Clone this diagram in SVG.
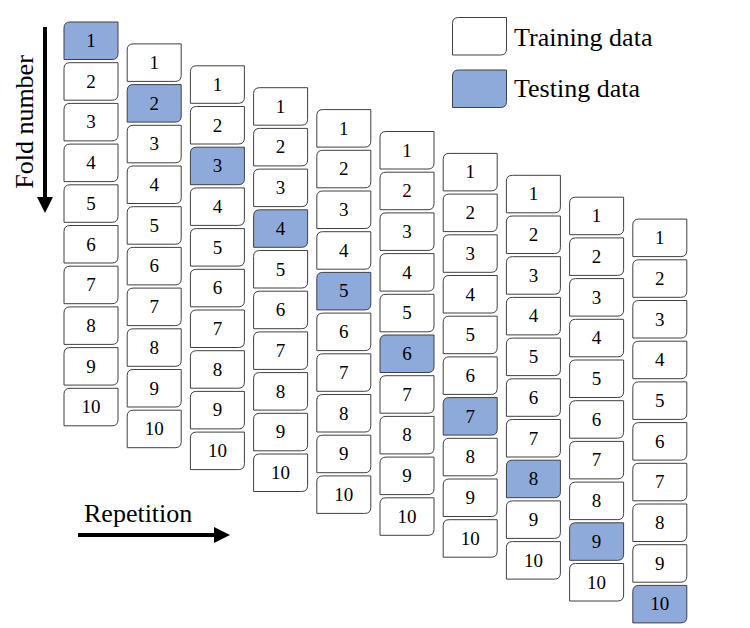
<svg xmlns="http://www.w3.org/2000/svg" xmlns:xlink="http://www.w3.org/1999/xlink" width="750" height="628" viewBox="0 0 750 628">
<style>
.tr{fill:#ffffff;stroke:#404040;stroke-width:1}
.te{fill:#8eaadb;stroke:#404040;stroke-width:1}
.n{font-family:"Liberation Serif","Times New Roman",serif;font-size:19px;fill:#000;text-anchor:middle}
.lbl{font-family:"Liberation Serif","Times New Roman",serif;font-size:26px;fill:#000}
</style>
<defs>
<path id="box" d="M6,0 H54 V31.5 Q54,37.5 48,37.5 H0 V6 Q0,0 6,0 Z"/>
<marker id="ah" viewBox="0 0 10 10" refX="0" refY="5" markerWidth="4" markerHeight="4" markerUnits="strokeWidth" orient="auto">
<path d="M0,0 L10,5 L0,10 Z" fill="#000"/>
</marker>
</defs>
<g id="legend">
<g id="legend-training"><use href="#box" x="452.5" y="17.5" class="tr"/><text class="lbl" x="514" y="46">Training data</text></g>
<g id="legend-testing"><use href="#box" x="452.5" y="70" class="te"/><text class="lbl" x="514" y="97">Testing data</text></g>
</g>
<g id="axes">
<g id="fold-axis"><line x1="45" y1="27" x2="45" y2="197" stroke="#000" stroke-width="4" marker-end="url(#ah)"/><text class="lbl" transform="translate(33,122) rotate(-90)" text-anchor="middle">Fold number</text></g>
<g id="rep-axis"><line x1="78" y1="535" x2="214" y2="535" stroke="#000" stroke-width="4" marker-end="url(#ah)"/><text class="lbl" x="84" y="522">Repetition</text></g>
</g>
<g id="connectors"></g>
<g id="rep1" transform="translate(64,22)">
<g id="r1f1"><use href="#box" class="te"/><text class="n" x="27" y="25">1</text></g>
<g id="r1f2" transform="translate(0,40.7)"><use href="#box" class="tr"/><text class="n" x="27" y="25">2</text></g>
<g id="r1f3" transform="translate(0,81.4)"><use href="#box" class="tr"/><text class="n" x="27" y="25">3</text></g>
<g id="r1f4" transform="translate(0,122.1)"><use href="#box" class="tr"/><text class="n" x="27" y="25">4</text></g>
<g id="r1f5" transform="translate(0,162.8)"><use href="#box" class="tr"/><text class="n" x="27" y="25">5</text></g>
<g id="r1f6" transform="translate(0,203.5)"><use href="#box" class="tr"/><text class="n" x="27" y="25">6</text></g>
<g id="r1f7" transform="translate(0,244.2)"><use href="#box" class="tr"/><text class="n" x="27" y="25">7</text></g>
<g id="r1f8" transform="translate(0,284.9)"><use href="#box" class="tr"/><text class="n" x="27" y="25">8</text></g>
<g id="r1f9" transform="translate(0,325.6)"><use href="#box" class="tr"/><text class="n" x="27" y="25">9</text></g>
<g id="r1f10" transform="translate(0,366.3)"><use href="#box" class="tr"/><text class="n" x="27" y="25">10</text></g>
</g>
<g id="rep2" transform="translate(127.2,43.9)">
<g id="r2f1"><use href="#box" class="tr"/><text class="n" x="27" y="25">1</text></g>
<g id="r2f2" transform="translate(0,40.7)"><use href="#box" class="te"/><text class="n" x="27" y="25">2</text></g>
<g id="r2f3" transform="translate(0,81.4)"><use href="#box" class="tr"/><text class="n" x="27" y="25">3</text></g>
<g id="r2f4" transform="translate(0,122.1)"><use href="#box" class="tr"/><text class="n" x="27" y="25">4</text></g>
<g id="r2f5" transform="translate(0,162.8)"><use href="#box" class="tr"/><text class="n" x="27" y="25">5</text></g>
<g id="r2f6" transform="translate(0,203.5)"><use href="#box" class="tr"/><text class="n" x="27" y="25">6</text></g>
<g id="r2f7" transform="translate(0,244.2)"><use href="#box" class="tr"/><text class="n" x="27" y="25">7</text></g>
<g id="r2f8" transform="translate(0,284.9)"><use href="#box" class="tr"/><text class="n" x="27" y="25">8</text></g>
<g id="r2f9" transform="translate(0,325.6)"><use href="#box" class="tr"/><text class="n" x="27" y="25">9</text></g>
<g id="r2f10" transform="translate(0,366.3)"><use href="#box" class="tr"/><text class="n" x="27" y="25">10</text></g>
</g>
<g id="rep3" transform="translate(190.4,65.8)">
<g id="r3f1"><use href="#box" class="tr"/><text class="n" x="27" y="25">1</text></g>
<g id="r3f2" transform="translate(0,40.7)"><use href="#box" class="tr"/><text class="n" x="27" y="25">2</text></g>
<g id="r3f3" transform="translate(0,81.4)"><use href="#box" class="te"/><text class="n" x="27" y="25">3</text></g>
<g id="r3f4" transform="translate(0,122.1)"><use href="#box" class="tr"/><text class="n" x="27" y="25">4</text></g>
<g id="r3f5" transform="translate(0,162.8)"><use href="#box" class="tr"/><text class="n" x="27" y="25">5</text></g>
<g id="r3f6" transform="translate(0,203.5)"><use href="#box" class="tr"/><text class="n" x="27" y="25">6</text></g>
<g id="r3f7" transform="translate(0,244.2)"><use href="#box" class="tr"/><text class="n" x="27" y="25">7</text></g>
<g id="r3f8" transform="translate(0,284.9)"><use href="#box" class="tr"/><text class="n" x="27" y="25">8</text></g>
<g id="r3f9" transform="translate(0,325.6)"><use href="#box" class="tr"/><text class="n" x="27" y="25">9</text></g>
<g id="r3f10" transform="translate(0,366.3)"><use href="#box" class="tr"/><text class="n" x="27" y="25">10</text></g>
</g>
<g id="rep4" transform="translate(253.6,87.7)">
<g id="r4f1"><use href="#box" class="tr"/><text class="n" x="27" y="25">1</text></g>
<g id="r4f2" transform="translate(0,40.7)"><use href="#box" class="tr"/><text class="n" x="27" y="25">2</text></g>
<g id="r4f3" transform="translate(0,81.4)"><use href="#box" class="tr"/><text class="n" x="27" y="25">3</text></g>
<g id="r4f4" transform="translate(0,122.1)"><use href="#box" class="te"/><text class="n" x="27" y="25">4</text></g>
<g id="r4f5" transform="translate(0,162.8)"><use href="#box" class="tr"/><text class="n" x="27" y="25">5</text></g>
<g id="r4f6" transform="translate(0,203.5)"><use href="#box" class="tr"/><text class="n" x="27" y="25">6</text></g>
<g id="r4f7" transform="translate(0,244.2)"><use href="#box" class="tr"/><text class="n" x="27" y="25">7</text></g>
<g id="r4f8" transform="translate(0,284.9)"><use href="#box" class="tr"/><text class="n" x="27" y="25">8</text></g>
<g id="r4f9" transform="translate(0,325.6)"><use href="#box" class="tr"/><text class="n" x="27" y="25">9</text></g>
<g id="r4f10" transform="translate(0,366.3)"><use href="#box" class="tr"/><text class="n" x="27" y="25">10</text></g>
</g>
<g id="rep5" transform="translate(316.8,109.6)">
<g id="r5f1"><use href="#box" class="tr"/><text class="n" x="27" y="25">1</text></g>
<g id="r5f2" transform="translate(0,40.7)"><use href="#box" class="tr"/><text class="n" x="27" y="25">2</text></g>
<g id="r5f3" transform="translate(0,81.4)"><use href="#box" class="tr"/><text class="n" x="27" y="25">3</text></g>
<g id="r5f4" transform="translate(0,122.1)"><use href="#box" class="tr"/><text class="n" x="27" y="25">4</text></g>
<g id="r5f5" transform="translate(0,162.8)"><use href="#box" class="te"/><text class="n" x="27" y="25">5</text></g>
<g id="r5f6" transform="translate(0,203.5)"><use href="#box" class="tr"/><text class="n" x="27" y="25">6</text></g>
<g id="r5f7" transform="translate(0,244.2)"><use href="#box" class="tr"/><text class="n" x="27" y="25">7</text></g>
<g id="r5f8" transform="translate(0,284.9)"><use href="#box" class="tr"/><text class="n" x="27" y="25">8</text></g>
<g id="r5f9" transform="translate(0,325.6)"><use href="#box" class="tr"/><text class="n" x="27" y="25">9</text></g>
<g id="r5f10" transform="translate(0,366.3)"><use href="#box" class="tr"/><text class="n" x="27" y="25">10</text></g>
</g>
<g id="rep6" transform="translate(380,131.5)">
<g id="r6f1"><use href="#box" class="tr"/><text class="n" x="27" y="25">1</text></g>
<g id="r6f2" transform="translate(0,40.7)"><use href="#box" class="tr"/><text class="n" x="27" y="25">2</text></g>
<g id="r6f3" transform="translate(0,81.4)"><use href="#box" class="tr"/><text class="n" x="27" y="25">3</text></g>
<g id="r6f4" transform="translate(0,122.1)"><use href="#box" class="tr"/><text class="n" x="27" y="25">4</text></g>
<g id="r6f5" transform="translate(0,162.8)"><use href="#box" class="tr"/><text class="n" x="27" y="25">5</text></g>
<g id="r6f6" transform="translate(0,203.5)"><use href="#box" class="te"/><text class="n" x="27" y="25">6</text></g>
<g id="r6f7" transform="translate(0,244.2)"><use href="#box" class="tr"/><text class="n" x="27" y="25">7</text></g>
<g id="r6f8" transform="translate(0,284.9)"><use href="#box" class="tr"/><text class="n" x="27" y="25">8</text></g>
<g id="r6f9" transform="translate(0,325.6)"><use href="#box" class="tr"/><text class="n" x="27" y="25">9</text></g>
<g id="r6f10" transform="translate(0,366.3)"><use href="#box" class="tr"/><text class="n" x="27" y="25">10</text></g>
</g>
<g id="rep7" transform="translate(443.2,153.4)">
<g id="r7f1"><use href="#box" class="tr"/><text class="n" x="27" y="25">1</text></g>
<g id="r7f2" transform="translate(0,40.7)"><use href="#box" class="tr"/><text class="n" x="27" y="25">2</text></g>
<g id="r7f3" transform="translate(0,81.4)"><use href="#box" class="tr"/><text class="n" x="27" y="25">3</text></g>
<g id="r7f4" transform="translate(0,122.1)"><use href="#box" class="tr"/><text class="n" x="27" y="25">4</text></g>
<g id="r7f5" transform="translate(0,162.8)"><use href="#box" class="tr"/><text class="n" x="27" y="25">5</text></g>
<g id="r7f6" transform="translate(0,203.5)"><use href="#box" class="tr"/><text class="n" x="27" y="25">6</text></g>
<g id="r7f7" transform="translate(0,244.2)"><use href="#box" class="te"/><text class="n" x="27" y="25">7</text></g>
<g id="r7f8" transform="translate(0,284.9)"><use href="#box" class="tr"/><text class="n" x="27" y="25">8</text></g>
<g id="r7f9" transform="translate(0,325.6)"><use href="#box" class="tr"/><text class="n" x="27" y="25">9</text></g>
<g id="r7f10" transform="translate(0,366.3)"><use href="#box" class="tr"/><text class="n" x="27" y="25">10</text></g>
</g>
<g id="rep8" transform="translate(506.4,175.3)">
<g id="r8f1"><use href="#box" class="tr"/><text class="n" x="27" y="25">1</text></g>
<g id="r8f2" transform="translate(0,40.7)"><use href="#box" class="tr"/><text class="n" x="27" y="25">2</text></g>
<g id="r8f3" transform="translate(0,81.4)"><use href="#box" class="tr"/><text class="n" x="27" y="25">3</text></g>
<g id="r8f4" transform="translate(0,122.1)"><use href="#box" class="tr"/><text class="n" x="27" y="25">4</text></g>
<g id="r8f5" transform="translate(0,162.8)"><use href="#box" class="tr"/><text class="n" x="27" y="25">5</text></g>
<g id="r8f6" transform="translate(0,203.5)"><use href="#box" class="tr"/><text class="n" x="27" y="25">6</text></g>
<g id="r8f7" transform="translate(0,244.2)"><use href="#box" class="tr"/><text class="n" x="27" y="25">7</text></g>
<g id="r8f8" transform="translate(0,284.9)"><use href="#box" class="te"/><text class="n" x="27" y="25">8</text></g>
<g id="r8f9" transform="translate(0,325.6)"><use href="#box" class="tr"/><text class="n" x="27" y="25">9</text></g>
<g id="r8f10" transform="translate(0,366.3)"><use href="#box" class="tr"/><text class="n" x="27" y="25">10</text></g>
</g>
<g id="rep9" transform="translate(569.6,197.2)">
<g id="r9f1"><use href="#box" class="tr"/><text class="n" x="27" y="25">1</text></g>
<g id="r9f2" transform="translate(0,40.7)"><use href="#box" class="tr"/><text class="n" x="27" y="25">2</text></g>
<g id="r9f3" transform="translate(0,81.4)"><use href="#box" class="tr"/><text class="n" x="27" y="25">3</text></g>
<g id="r9f4" transform="translate(0,122.1)"><use href="#box" class="tr"/><text class="n" x="27" y="25">4</text></g>
<g id="r9f5" transform="translate(0,162.8)"><use href="#box" class="tr"/><text class="n" x="27" y="25">5</text></g>
<g id="r9f6" transform="translate(0,203.5)"><use href="#box" class="tr"/><text class="n" x="27" y="25">6</text></g>
<g id="r9f7" transform="translate(0,244.2)"><use href="#box" class="tr"/><text class="n" x="27" y="25">7</text></g>
<g id="r9f8" transform="translate(0,284.9)"><use href="#box" class="tr"/><text class="n" x="27" y="25">8</text></g>
<g id="r9f9" transform="translate(0,325.6)"><use href="#box" class="te"/><text class="n" x="27" y="25">9</text></g>
<g id="r9f10" transform="translate(0,366.3)"><use href="#box" class="tr"/><text class="n" x="27" y="25">10</text></g>
</g>
<g id="rep10" transform="translate(632.8,219.1)">
<g id="r10f1"><use href="#box" class="tr"/><text class="n" x="27" y="25">1</text></g>
<g id="r10f2" transform="translate(0,40.7)"><use href="#box" class="tr"/><text class="n" x="27" y="25">2</text></g>
<g id="r10f3" transform="translate(0,81.4)"><use href="#box" class="tr"/><text class="n" x="27" y="25">3</text></g>
<g id="r10f4" transform="translate(0,122.1)"><use href="#box" class="tr"/><text class="n" x="27" y="25">4</text></g>
<g id="r10f5" transform="translate(0,162.8)"><use href="#box" class="tr"/><text class="n" x="27" y="25">5</text></g>
<g id="r10f6" transform="translate(0,203.5)"><use href="#box" class="tr"/><text class="n" x="27" y="25">6</text></g>
<g id="r10f7" transform="translate(0,244.2)"><use href="#box" class="tr"/><text class="n" x="27" y="25">7</text></g>
<g id="r10f8" transform="translate(0,284.9)"><use href="#box" class="tr"/><text class="n" x="27" y="25">8</text></g>
<g id="r10f9" transform="translate(0,325.6)"><use href="#box" class="tr"/><text class="n" x="27" y="25">9</text></g>
<g id="r10f10" transform="translate(0,366.3)"><use href="#box" class="te"/><text class="n" x="27" y="25">10</text></g>
</g>
</svg>
